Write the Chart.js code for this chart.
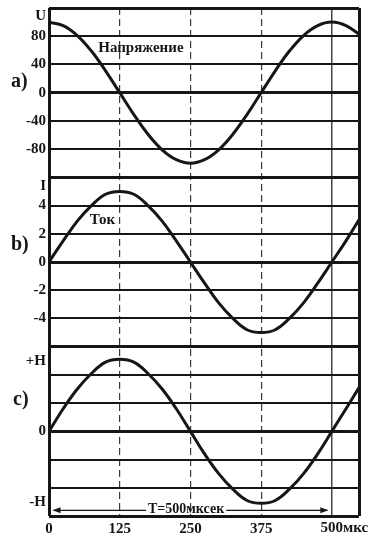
<!DOCTYPE html>
<html>
<head>
<meta charset="utf-8">
<script src="https://cdn.jsdelivr.net/npm/chart.js@4/dist/chart.umd.min.js"></script>
<style>
    html, body { margin: 0; padding: 0; background: #fff; }
    #wrap { position: relative; width: 370px; height: 539px; }
</style>
</head>
<body>
<div id="wrap"><canvas id="waves"></canvas></div>
<script>
// Время, мкс (одна ось на все три графика)
const times = [0, 25, 50, 75, 100, 125, 150, 175, 200, 225, 250, 275, 300, 325, 350, 375, 400, 425, 450, 475, 500, 525, 548];

// a) напряжение
const voltage = [100, 95, 81, 59, 31, 0, -31, -59, -81, -95, -100, -95, -81, -59, -31, 0, 31, 59, 81, 95, 100, 95, 83];
// b) ток
const current = [0, 1.5, 2.9, 4.0, 4.8, 5.0, 4.8, 4.0, 2.9, 1.5, 0, -1.5, -2.9, -4.0, -4.8, -5.0, -4.8, -4.0, -2.9, -1.5, 0, 1.5, 3.0];
// c) поле
const field = [0, 1.6, 3.0, 4.1, 4.9, 5.1, 4.9, 4.1, 3.0, 1.6, 0, -1.6, -3.0, -4.1, -4.9, -5.1, -4.9, -4.1, -3.0, -1.6, 0, 1.6, 3.1];

// Подписи оси времени
const xTicks = [0, 125, 250, 375, 500];
const xTickLabels = ['0', '125', '250', '375', '500мкс'];
const xDashed = [125, 250, 375];

// Подписи и линии сетки для каждого графика
const uGrid = [-120, -80, -40, 0, 40, 80, 120];
const uTicks = [-80, -40, 0, 40, 80, 108];
const uTickLabels = ['-80', '-40', '0', '40', '80', 'U'];

const iGrid = [-6, -4, -2, 0, 2, 4, 6];
const iTicks = [-4, -2, 0, 2, 4, 5.4];
const iTickLabels = ['-4', '-2', '0', '2', '4', 'I'];

const hGrid = [-6, -4, -2, 0, 2, 4, 6];
const hTicks = [-5, 0, 5];
const hTickLabels = ['-H', '0', '+H'];

const ink = '#161616';
const serif = '"Liberation Serif", "DejaVu Serif", serif';

function points(ys) {
    return times.map((t, i) => ({x: t, y: ys[i]}));
}

// Вертикальная ось одного из трёх графиков
function makeY(min, max, grid, ticks, labels, weight) {
    const edges = [min, 0, max];
    return {
        type: 'linear',
        position: 'left',
        stack: 'panels',
        stackWeight: 1,
        weight: weight,
        min: min,
        max: max,
        afterBuildTicks: scale => {
            const all = Array.from(new Set(grid.concat(ticks))).sort((a, b) => a - b);
            scale.ticks = all.map(v => ({value: v}));
        },
        afterFit: scale => {
            scale.width = 49;
            // крайние пустые подписи не должны сдвигать область графика
            scale.paddingTop = 0;
            scale.paddingBottom = 0;
        },
        border: {display: false},
        grid: {
            drawTicks: false,
            color: c => (c.tick && grid.includes(c.tick.value)) ? ink : 'rgba(0,0,0,0)',
            lineWidth: c => (c.tick && edges.includes(c.tick.value)) ? 3 : 2
        },
        ticks: {
            padding: 3,
            autoSkip: false,
            color: ink,
            font: {family: serif, size: 15, weight: 'bold'},
            callback: v => {
                const k = ticks.indexOf(v);
                return k < 0 ? '' : labels[k];
            }
        }
    };
}

// Надписи поверх графика
const notesPlugin = {
    id: 'notes',
    afterDraw(chart) {
        const {ctx, scales} = chart;
        const x = scales.x;
        ctx.save();
        ctx.fillStyle = ink;
        ctx.strokeStyle = ink;
        ctx.textBaseline = 'middle';

        ctx.font = 'bold 20px ' + serif;
        ctx.textAlign = 'left';
        ctx.fillText('a)', 11, scales.yA.getPixelForValue(16));
        ctx.fillText('b)', 11, scales.yB.getPixelForValue(1.2));
        ctx.fillText('c)', 13, scales.yC.getPixelForValue(2.2));

        ctx.font = 'bold 15px ' + serif;
        ctx.fillText('Напряжение', x.getPixelForValue(87), scales.yA.getPixelForValue(63));
        ctx.fillText('Ток', x.getPixelForValue(72), scales.yB.getPixelForValue(3.0));

        // подпись 500мкс: цифры по центру деления
        const last = xTickLabels[xTickLabels.length - 1];
        const wNum = ctx.measureText(String(xTicks[xTicks.length - 1])).width;
        ctx.fillText(last, x.getPixelForValue(500) - wNum / 2, chart.chartArea.bottom + 12);

        // период T со стрелками
        ctx.font = 'bold 14px ' + serif;
        const label = 'T=500мксек';
        const yArrow = scales.yC.getPixelForValue(-5.6);
        const xL = x.getPixelForValue(8);
        const xR = x.getPixelForValue(492);
        const xT = x.getPixelForValue(175);
        const wT = ctx.measureText(label).width;
        ctx.fillText(label, xT, yArrow - 1);
        ctx.lineWidth = 1.2;
        ctx.beginPath();
        ctx.moveTo(xL, yArrow);
        ctx.lineTo(xT - 2, yArrow);
        ctx.moveTo(xT + wT + 2, yArrow);
        ctx.lineTo(xR, yArrow);
        ctx.stroke();
        ctx.beginPath();
        ctx.moveTo(xL - 1, yArrow);
        ctx.lineTo(xL + 7, yArrow - 3);
        ctx.lineTo(xL + 7, yArrow + 3);
        ctx.closePath();
        ctx.moveTo(xR + 1, yArrow);
        ctx.lineTo(xR - 7, yArrow - 3);
        ctx.lineTo(xR - 7, yArrow + 3);
        ctx.closePath();
        ctx.fill();
        ctx.restore();
    }
};

const line = {borderColor: ink, borderWidth: 3, pointRadius: 0, tension: 0.4, fill: false, xAxisID: 'x'};

new Chart(document.getElementById('waves'), {
    type: 'line',
    data: {
        datasets: [
            Object.assign({label: 'U', data: points(voltage), yAxisID: 'yA'}, line),
            Object.assign({label: 'I', data: points(current), yAxisID: 'yB'}, line),
            Object.assign({label: 'H', data: points(field), yAxisID: 'yC'}, line)
        ]
    },
    options: {
        responsive: true,
        maintainAspectRatio: false,
        animation: false,
        layout: {padding: {top: 8, right: 11, left: 0, bottom: 0}},
        plugins: {legend: {display: false}, tooltip: {enabled: false}},
        scales: {
            x: {
                type: 'linear',
                min: 0,
                max: 548,
                afterBuildTicks: scale => {
                    scale.ticks = xTicks.concat([548]).map(v => ({value: v}));
                },
                afterFit: scale => { scale.height = 23; },
                border: {
                    display: false,
                    dash: c => (c.tick && xDashed.includes(c.tick.value)) ? [7, 4] : []
                },
                grid: {
                    drawTicks: false,
                    color: c => {
                        const v = c.tick ? c.tick.value : -1;
                        if (xDashed.includes(v)) return '#3a3a3a';
                        if (v === 500) return '#444';
                        return ink;
                    },
                    lineWidth: c => {
                        const v = c.tick ? c.tick.value : -1;
                        if (xDashed.includes(v)) return 1.2;
                        if (v === 500) return 1.5;
                        return 3;
                    }
                },
                ticks: {
                    padding: 4,
                    maxRotation: 0,
                    autoSkip: false,
                    color: ink,
                    font: {family: serif, size: 15, weight: 'bold'},
                    callback: v => {
                        const k = xTicks.indexOf(v);
                        // последнюю подпись рисует плагин, чтобы цифры стояли по центру деления
                        return (k < 0 || k === xTicks.length - 1) ? '' : xTickLabels[k];
                    }
                }
            },
            yC: makeY(-6, 6, hGrid, hTicks, hTickLabels, 1),
            yB: makeY(-6, 6, iGrid, iTicks, iTickLabels, 2),
            yA: makeY(-120, 120, uGrid, uTicks, uTickLabels, 3)
        }
    },
    plugins: [notesPlugin]
});
</script>
</body>
</html>
